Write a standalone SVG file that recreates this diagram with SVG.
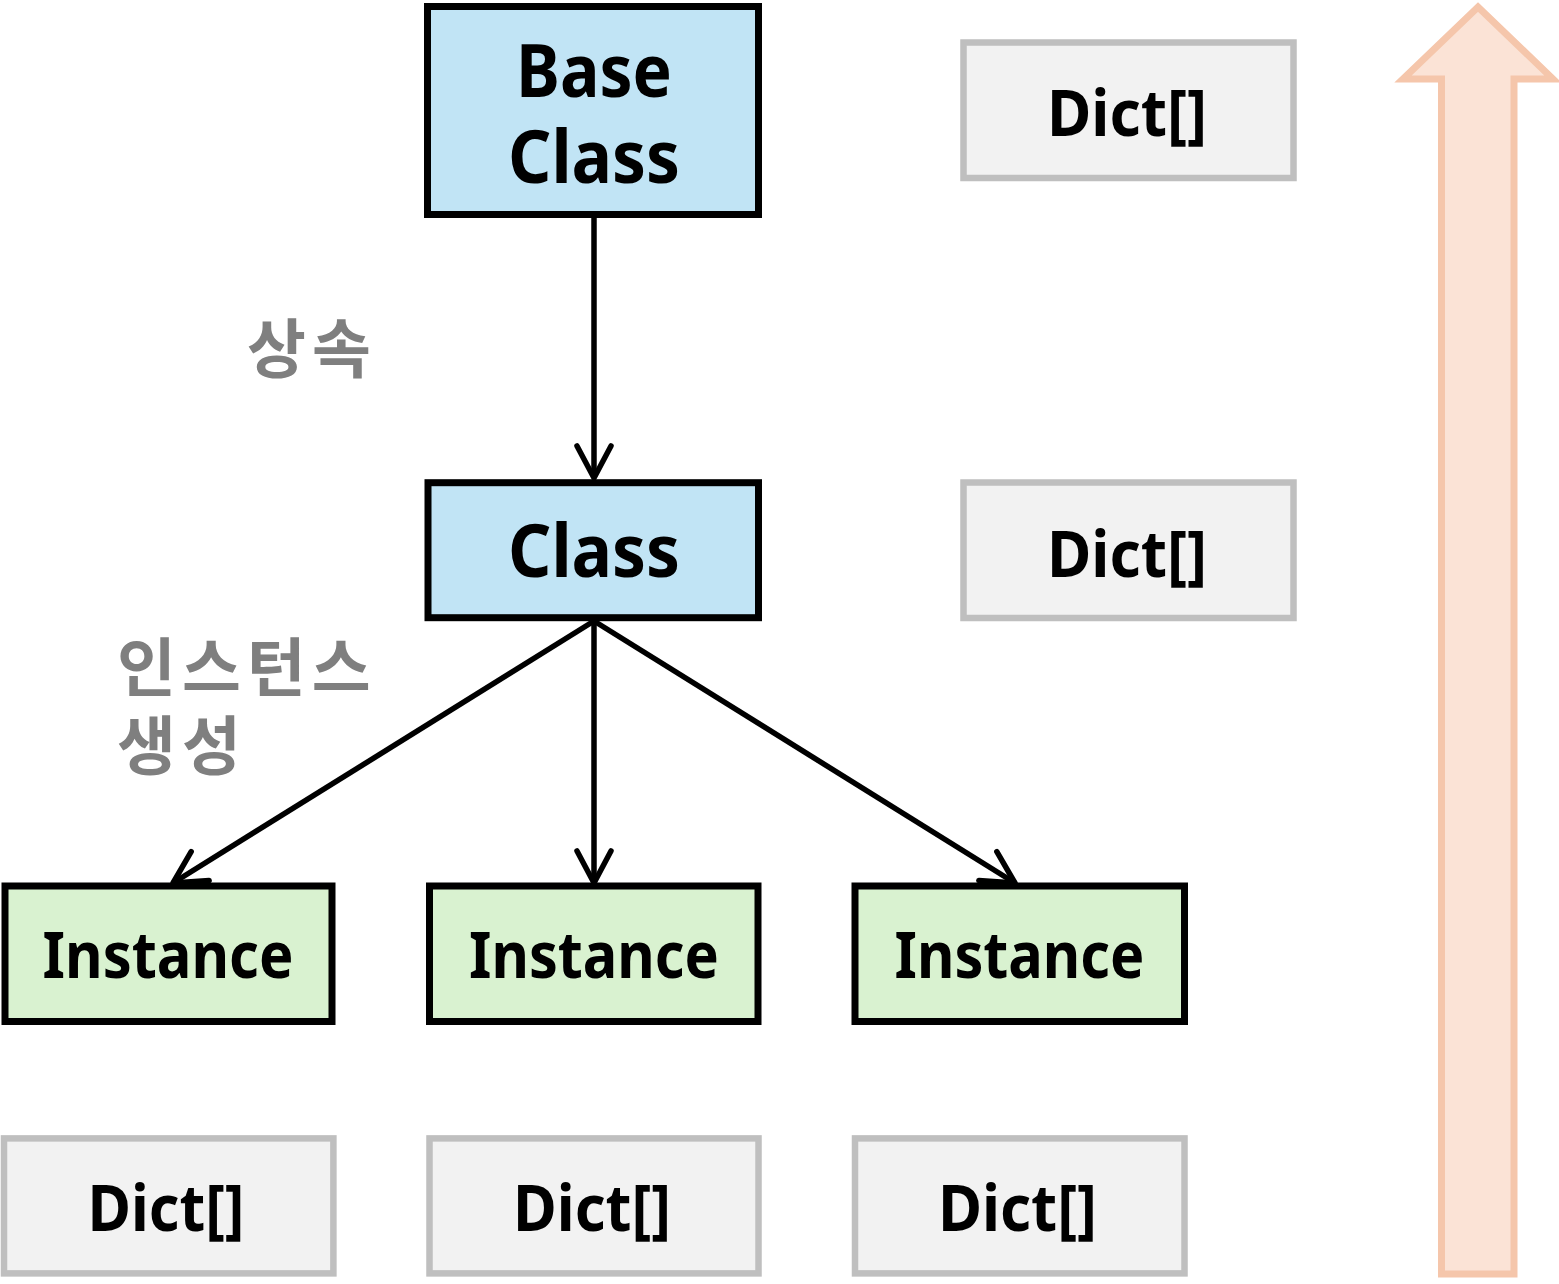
<svg xmlns="http://www.w3.org/2000/svg" width="1559" height="1284" viewBox="0 0 1559 1284">
<defs>
<style>
.cls{fill:#C1E4F5;stroke:#000;stroke-width:7}
.inst{fill:#D9F2D0;stroke:#000;stroke-width:7}
.dict{fill:#F2F2F2;stroke:#BFBFBF;stroke-width:6.5}
.t{font-family:"Noto Sans","Liberation Sans",sans-serif;font-weight:bold;fill:#000;text-anchor:middle}
.big{font-size:74px}
.mid{font-size:64px}
.kr{font-family:"Noto Sans CJK KR","Noto Sans",sans-serif;font-weight:bold;font-size:64px;fill:#7F7F7F;letter-spacing:6px}
.conn{stroke:#000;stroke-width:5.5;fill:none}
</style>
<marker id="arr" markerUnits="userSpaceOnUse" markerWidth="40" markerHeight="40" viewBox="-36 -20 40 40" refX="0" refY="0" orient="auto" overflow="visible">
<path d="M-32,-17 L0,0 L-32,17" fill="none" stroke="#000" stroke-width="5.5" stroke-linecap="round" stroke-linejoin="round"/>
</marker>
</defs>
<rect width="1559" height="1284" fill="#fff"/>
<g id="bigarrow">
<polygon points="1478,7 1553,79 1514,79 1514,1274 1441.5,1274 1441.5,79 1403,79" fill="#FBE3D6" stroke="#F5C6AB" stroke-width="7"/>
</g>
<g id="connectors">
<line class="conn" x1="594" y1="216" x2="594" y2="478" marker-end="url(#arr)"/>
<line class="conn" x1="594" y1="621" x2="173" y2="883" marker-end="url(#arr)"/>
<line class="conn" x1="594" y1="621" x2="594" y2="883" marker-end="url(#arr)"/>
<line class="conn" x1="594" y1="621" x2="1015" y2="883" marker-end="url(#arr)"/>
</g>
<g id="baseclass">
<rect class="cls" x="427.5" y="6.5" width="331" height="208"/>
<text class="t big" x="594" y="97" textLength="156" lengthAdjust="spacingAndGlyphs">Base</text>
<text class="t big" x="594" y="183" textLength="172" lengthAdjust="spacingAndGlyphs">Class</text>
</g>
<g id="class">
<rect class="cls" x="428" y="482.7" width="330.5" height="135"/>
<text class="t big" x="594" y="577" textLength="172" lengthAdjust="spacingAndGlyphs">Class</text>
</g>
<g id="instance1">
<rect class="inst" x="5" y="886" width="327" height="135.5"/>
<text class="t mid" x="168" y="978" textLength="251" lengthAdjust="spacingAndGlyphs">Instance</text>
</g>
<g id="instance2">
<rect class="inst" x="429.5" y="886" width="328.5" height="135.5"/>
<text class="t mid" x="594" y="978" textLength="250" lengthAdjust="spacingAndGlyphs">Instance</text>
</g>
<g id="instance3">
<rect class="inst" x="855" y="886" width="329.5" height="135.5"/>
<text class="t mid" x="1019.5" y="978" textLength="250" lengthAdjust="spacingAndGlyphs">Instance</text>
</g>
<g id="dict-base">
<rect class="dict" x="963.5" y="42.5" width="330" height="135.5"/>
<text class="t mid" x="1127" y="136" textLength="160" lengthAdjust="spacingAndGlyphs">Dict[]</text>
</g>
<g id="dict-class">
<rect class="dict" x="963.5" y="482.5" width="330" height="135.5"/>
<text class="t mid" x="1127" y="577" textLength="160" lengthAdjust="spacingAndGlyphs">Dict[]</text>
</g>
<g id="dict-inst1">
<rect class="dict" x="4" y="1138.4" width="329.4" height="135"/>
<text class="t mid" x="166" y="1231" textLength="157" lengthAdjust="spacingAndGlyphs">Dict[]</text>
</g>
<g id="dict-inst2">
<rect class="dict" x="429.5" y="1138.4" width="329" height="135"/>
<text class="t mid" x="592" y="1231" textLength="158" lengthAdjust="spacingAndGlyphs">Dict[]</text>
</g>
<g id="dict-inst3">
<rect class="dict" x="855" y="1138.4" width="329.5" height="135"/>
<text class="t mid" x="1017.5" y="1231" textLength="159" lengthAdjust="spacingAndGlyphs">Dict[]</text>
</g>
<g id="labels">
<text class="kr" x="247" y="372">상속</text>
<text class="kr" x="117" y="691">인스턴스</text>
<text class="kr" x="117" y="769">생성</text>
</g>
</svg>
